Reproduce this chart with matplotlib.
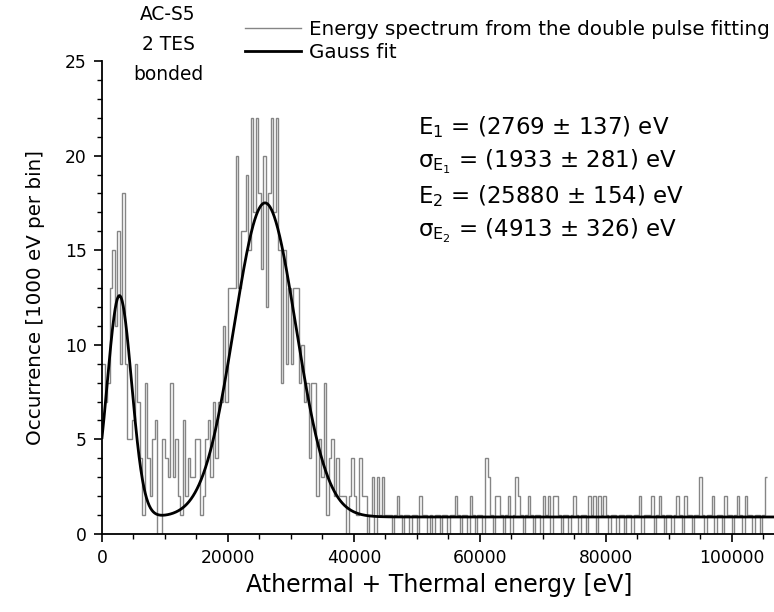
import numpy as np
import matplotlib
matplotlib.use("Agg")
import matplotlib.pyplot as plt
from matplotlib.lines import Line2D
from matplotlib.ticker import MultipleLocator

plt.rcParams['font.family'] = ['DejaVu Sans']
plt.rcParams['mathtext.fontset'] = 'custom'
plt.rcParams['mathtext.rm'] = 'DejaVu Sans'
plt.rcParams['mathtext.it'] = 'DejaVu Sans'
plt.rcParams['mathtext.bf'] = 'DejaVu Sans:bold'

# ---------------- data ----------------
BIN_WIDTH = 400.0  # eV
counts = [
    9, 7, 8, 13, 15, 11, 16, 9, 18, 9,
    5, 5, 6, 9, 7, 4, 1, 8, 4, 2,
    5, 6, 0, 0, 5, 4, 3, 8, 3, 5,
    2, 1, 6, 2, 4, 3, 3, 5, 5, 1,
    2, 5, 6, 3, 7, 4, 7, 7, 11, 7,
    13, 13, 13, 20, 13, 16, 16, 19, 15, 22,
    17, 22, 18, 14, 20, 12, 18, 22, 17, 22,
    15, 8, 15, 9, 13, 9, 13, 13, 8, 10,
    7, 8, 4, 8, 8, 2, 5, 3, 8, 1,
    4, 5, 2, 4, 2, 2, 2, 0, 2, 4,
    2, 1, 4, 2, 2, 0, 1, 3, 0, 3,
    1, 3, 1, 1, 1, 0, 1, 2, 1, 0,
    1, 1, 0, 1, 1, 0, 2, 1, 1, 0,
    1, 0, 1, 1, 0, 1, 1, 0, 1, 1,
    2, 1, 0, 1, 1, 0, 2, 1, 0, 1,
    1, 0, 4, 3, 1, 0, 2, 2, 1, 0,
    1, 2, 0, 1, 3, 2, 1, 0, 1, 2,
    1, 0, 1, 1, 0, 2, 1, 2, 0, 2,
    2, 1, 0, 1, 1, 0, 1, 2, 1, 0,
    1, 1, 0, 2, 1, 2, 0, 2, 1, 2,
    1, 0, 1, 1, 0, 1, 1, 0, 1, 1,
    0, 1, 1, 2, 0, 1, 1, 1, 2, 0,
    1, 2, 1, 0, 1, 1, 0, 1, 2, 1,
    0, 2, 1, 1, 0, 1, 1, 3, 1, 0,
    1, 1, 2, 0, 1, 1, 0, 2, 1, 1,
    0, 1, 2, 1, 0, 2, 1, 1, 0, 1,
    1, 0, 1, 3,
]

# Gauss fit parameters (from the annotation)
Y0 = 0.9
E1, SIG1, A1 = 2769.0, 1933.0, 11.7
E2, SIG2, A2 = 25880.0, 4913.0, 16.6

x_ticks = [0, 20000, 40000, 60000, 80000, 100000]
y_ticks = [0, 5, 10, 15, 20, 25]
X_END = 107000

legend_labels = ["Energy spectrum from the double pulse fitting", "Gauss fit"]
sample_lines = ["AC-S5", "2 TES", "bonded"]
fit_text = [
    r"$\mathrm{E}_1$ = (2769 ± 137) eV",
    r"$\sigma_{\mathrm{E}_1}$ = (1933 ± 281) eV",
    r"$\mathrm{E}_2$ = (25880 ± 154) eV",
    r"$\sigma_{\mathrm{E}_2}$ = (4913 ± 326) eV",
]

# ---------------- figure ----------------
W, H = 774, 612
fig = plt.figure(figsize=(W / 100, H / 100), dpi=100)
ax = fig.add_axes([102 / W, (H - 534) / H, 674 / W, (534 - 61) / H])

edges = np.arange(len(counts) + 1) * BIN_WIDTH
ax.stairs(counts, edges, baseline=None, color='#858585', linewidth=1.0)

xf = np.linspace(0, X_END, 2000)
yf = Y0 + A1 * np.exp(-(xf - E1) ** 2 / (2 * SIG1 ** 2)) + A2 * np.exp(-(xf - E2) ** 2 / (2 * SIG2 ** 2))
ax.plot(xf, yf, color='black', linewidth=2.0)

ax.set_xlim(0, X_END)
ax.set_ylim(0, 25)
ax.set_xticks(x_ticks)
ax.set_yticks(y_ticks)
ax.xaxis.set_minor_locator(MultipleLocator(5000))
ax.yaxis.set_minor_locator(MultipleLocator(1))
for s in ['top', 'right']:
    ax.spines[s].set_visible(False)
for s in ['left', 'bottom']:
    ax.spines[s].set_linewidth(1.3)
ax.tick_params(which='major', direction='out', length=6, width=1.2, labelsize=12.3, pad=5)
ax.tick_params(which='minor', direction='out', length=3.5, width=1.0)

ax.set_xlabel("Athermal + Thermal energy [eV]", fontsize=17, labelpad=4)
ax.set_ylabel("Occurrence [1000 eV per bin]", fontsize=14.3, labelpad=14)

handles = [Line2D([], [], color='#858585', lw=1.0), Line2D([], [], color='black', lw=2.0)]
fig.legend(handles, legend_labels, loc='upper left', bbox_to_anchor=(245 / W, 1 - 20 / H),
           frameon=False, fontsize=14.3, handlelength=2.8, handletextpad=0.4,
           labelspacing=0.2, borderpad=0, borderaxespad=0)

for i, t in enumerate(sample_lines):
    fig.text(168 / W, 1 - (15 + 30 * i) / H, t, ha='center', va='center', fontsize=13.4)

for i, t in enumerate(fit_text):
    fig.text(418 / W, 1 - (127 + 34.5 * i) / H, t, ha='left', va='center', fontsize=16.5)

fig.savefig("out.png", dpi=100)
